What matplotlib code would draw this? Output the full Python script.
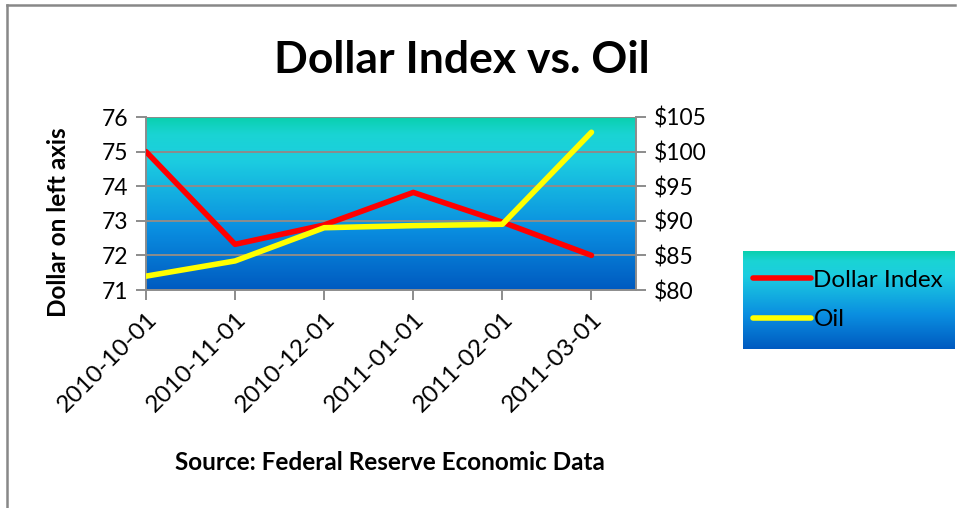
import numpy as np
import matplotlib.pyplot as plt
from matplotlib.colors import LinearSegmentedColormap
from matplotlib.lines import Line2D

dates = ["2010-10-01", "2010-11-01", "2010-12-01", "2011-01-01", "2011-02-01", "2011-03-01"]
dollar_index = [75.0, 72.32, 72.88, 73.82, 72.96, 72.0]
oil_price = [82.0, 84.2, 89.0, 89.3, 89.5, 102.8]

plt.rcParams['font.family'] = ['Lato', 'DejaVu Sans']

grad = LinearSegmentedColormap.from_list(
    "bg", [(0.0, "#005ac0"), (0.35, "#0a8ee0"), (0.75, "#1ccde0"), (0.9, "#1ad4d4"), (1.0, "#0ad0ae")])


def gradient_fill(ax):
    g = np.linspace(0, 1, 256).reshape(-1, 1)
    ax.imshow(g, cmap=grad, origin="lower", aspect="auto",
              extent=(0, 1, 0, 1), transform=ax.transAxes, zorder=0)


fig = plt.figure(figsize=(9.57, 5.08), dpi=100)

# thin grey chart-area border (top and left edges)
fig.add_artist(Line2D([7.5 / 957, 955 / 957], [1 - 5 / 508, 1 - 5 / 508],
                      transform=fig.transFigure, color="#888888", lw=1.8))
fig.add_artist(Line2D([7.5 / 957, 7.5 / 957], [0, 1 - 5 / 508],
                      transform=fig.transFigure, color="#888888", lw=1.8))

ax = fig.add_axes([146 / 957, 1 - 290 / 508, 490 / 957, 173 / 508])
gradient_fill(ax)
x = np.arange(len(dates))
ax.plot(x, dollar_index, color="#ff0000", lw=4, solid_capstyle="round", zorder=3,
        label="Dollar Index")
ax.set_xlim(0, 5.5)
ax.set_ylim(71, 76)
ax.set_yticks(range(71, 77))
ax.grid(axis="y", color="#8c8c8c", lw=1.4)
ax.set_axisbelow(False)
ax.set_xticks(x)
ax.set_xticklabels(dates, rotation=45, ha="right", rotation_mode="anchor", fontsize=17.5)
ax.tick_params(axis="x", length=7, width=1.4, color="#8c8c8c", pad=6)
ax.tick_params(axis="y", length=7, width=1.4, color="#8c8c8c", labelsize=16.5, pad=6)
for side in ["top", "right"]:
    ax.spines[side].set_visible(False)
for side in ["left", "bottom"]:
    ax.spines[side].set_color("#8c8c8c")
    ax.spines[side].set_linewidth(1.4)
ax.set_ylabel("Dollar on left axis", fontsize=17.5, fontweight="bold")
ax.yaxis.set_label_coords(-0.155, 0.39)

ax2 = ax.twinx()
ax2.plot(x, oil_price, color="#ffff00", lw=4, solid_capstyle="round", zorder=3, label="Oil")
ax2.set_ylim(80, 105)
ax2.set_yticks(range(80, 106, 5))
ax2.set_yticklabels([f"${v}" for v in range(80, 106, 5)])
ax2.tick_params(axis="y", length=7, width=1.4, color="#8c8c8c", labelsize=16.5, pad=6)
for side in ["top", "left", "bottom"]:
    ax2.spines[side].set_visible(False)
ax2.spines["right"].set_color("#8c8c8c")
ax2.spines["right"].set_linewidth(1.4)

fig.text(462 / 957, 1 - 60 / 508, "Dollar Index vs. Oil", ha="center", va="center",
         fontsize=32, fontweight="bold")
fig.text(390 / 957, 1 - 463 / 508, "Source: Federal Reserve Economic Data", ha="center",
         va="center", fontsize=17.5, fontweight="bold")

# legend on its own gradient box
lax = fig.add_axes([743 / 957, 1 - 349 / 508, 212 / 957, 98 / 508])
gradient_fill(lax)
lax.set_axis_off()
h1, l1 = ax.get_legend_handles_labels()
h2, l2 = ax2.get_legend_handles_labels()
lax.legend(h1 + h2, l1 + l2, loc="center left", frameon=False, fontsize=17.5,
           handlelength=2.4, handletextpad=0.1, labelspacing=0.75,
           borderaxespad=0.1, borderpad=0.3)

fig.savefig("out.png", dpi=100)
